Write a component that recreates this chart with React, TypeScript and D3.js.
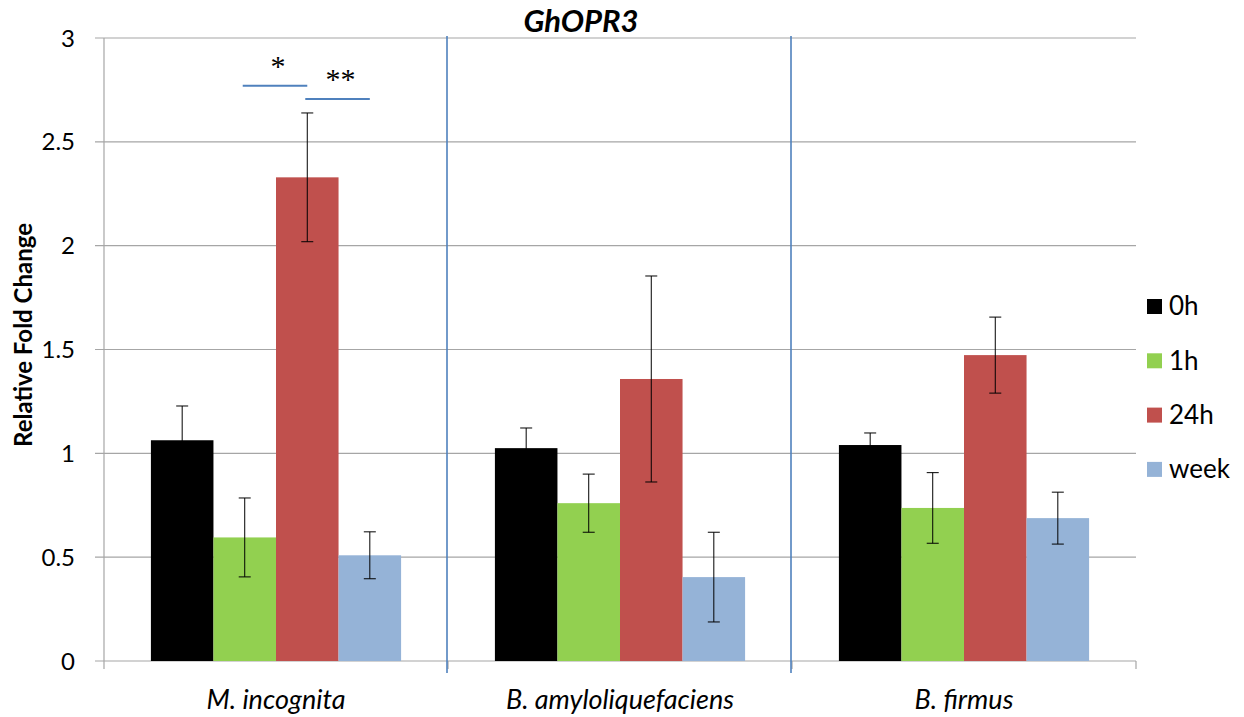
import React from "react";
import * as d3 from "d3";

const categories = ["M. incognita", "B. amyloliquefaciens", "B. firmus"];
const seriesNames = ["0h", "1h", "24h", "week"];
const seriesColors = ["#000000", "#92d050", "#c0504d", "#95b3d7"];
const values0h = [1.063, 1.025, 1.04];
const values1h = [0.595, 0.76, 0.737];
const values24h = [2.329, 1.358, 1.473];
const valuesWeek = [0.509, 0.404, 0.688];
const err0h = [0.165, 0.097, 0.058];
const err1h = [0.19, 0.14, 0.17];
const err24h = [0.31, 0.496, 0.183];
const errWeek = [0.113, 0.216, 0.125];
const yTicks = [0, 0.5, 1, 1.5, 2, 2.5, 3];
const sigMarks = [
  { cat: 0, from: 1, to: 2, y: 2.77, label: "*" },
  { cat: 0, from: 2, to: 3, y: 2.706, label: "**" },
];

const allValues = [values0h, values1h, values24h, valuesWeek];
const allErrors = [err0h, err1h, err24h, errWeek];

export default function App() {
  const W = 1244, H = 717;
  const left = 104, right = 1136, top = 38, bottom = 661;
  const x0 = d3.scaleBand<string>().domain(categories).range([left, right]).paddingInner(0).paddingOuter(0);
  const cw = x0.bandwidth();
  const x1 = d3.scaleBand<string>().domain(seriesNames).range([cw * 0.75 / 5.5, cw - cw * 0.75 / 5.5]).padding(0);
  const y = d3.scaleLinear().domain([0, 3]).range([bottom, top]);
  const font = "Lato, 'Open Sans', sans-serif";
  const grid = "#a6a6a6";
  const divider = "#4f81bd";

  return (
    <svg width={W} height={H} style={{ position: "absolute", left: 0, top: 0, background: "#fff" }}>
      {yTicks.map((t) => (
        <g key={t}>
          <line x1={95} x2={right} y1={y(t)} y2={y(t)} stroke={grid} strokeWidth={1.2} />
          <text x={75} y={y(t)} dy="0.36em" textAnchor="end" fontFamily={font} fontSize={24} fill="#000">{t}</text>
        </g>
      ))}
      <line x1={left} x2={left} y1={top} y2={bottom + 8} stroke={grid} strokeWidth={1.2} />
      {categories.map((c, i) => (
        <line key={"bt" + i} x1={x0(c)! + cw} x2={x0(c)! + cw} y1={bottom} y2={bottom + 8} stroke={grid} strokeWidth={1.2} />
      ))}
      {categories.slice(1).map((c, i) => (
        <line key={"dv" + i} x1={x0(c)! - 1} x2={x0(c)! - 1} y1={top - 2} y2={bottom + 12} stroke={divider} strokeWidth={1.6} />
      ))}
      {categories.map((c, ci) => (
        <g key={c} transform={`translate(${x0(c)},0)`}>
          {seriesNames.map((s, si) => {
            const v = allValues[si][ci];
            const e = allErrors[si][ci];
            const bx = x1(s)!;
            const bw = x1.bandwidth();
            const cx = bx + bw / 2;
            return (
              <g key={s}>
                <rect x={bx} y={y(v)} width={bw} height={y(0) - y(v)} fill={seriesColors[si]} />
                <line x1={cx} x2={cx} y1={y(v + e)} y2={y(v - e)} stroke="#000" strokeWidth={1} />
                <line x1={cx - 6} x2={cx + 6} y1={y(v + e)} y2={y(v + e)} stroke="#000" strokeWidth={1} />
                <line x1={cx - 6} x2={cx + 6} y1={y(v - e)} y2={y(v - e)} stroke="#000" strokeWidth={1} />
              </g>
            );
          })}
          <text x={cw / 2} y={699} dy="0.36em" textAnchor="middle" fontFamily={font} fontStyle="italic" fontSize={27} fill="#000">{c}</text>
        </g>
      ))}
      {sigMarks.map((m, i) => {
        const c = categories[m.cat];
        const xa = x0(c)! + x1(seriesNames[m.from])! + x1.bandwidth() / 2 - 2;
        const xb = x0(c)! + x1(seriesNames[m.to])! + x1.bandwidth() / 2;
        return (
          <g key={"sig" + i}>
            <line x1={xa} x2={xb} y1={y(m.y)} y2={y(m.y)} stroke={divider} strokeWidth={2} />
            <text x={(xa + xb) / 2 + 3} y={y(m.y) - 10} textAnchor="middle" fontFamily="'Liberation Serif', serif" fontSize={30} fill="#000">{m.label}</text>
          </g>
        );
      })}
      <text x={581} y={32} textAnchor="middle" fontFamily={font} fontWeight="bold" fontStyle="italic" fontSize={31} fill="#000">GhOPR3</text>
      <text transform={`translate(32,335) rotate(-90)`} textAnchor="middle" fontFamily={font} fontWeight="bold" fontSize={24} fill="#000">Relative Fold Change</text>
      {seriesNames.map((s, i) => (
        <g key={"lg" + s} transform={`translate(1147,${306 + i * 54.3})`}>
          <rect x={0} y={-7} width={15} height={15} fill={seriesColors[i]} />
          <text x={22} y={0} dy="0.36em" fontFamily={font} fontSize={26} fill="#000">{s}</text>
        </g>
      ))}
    </svg>
  );
}
